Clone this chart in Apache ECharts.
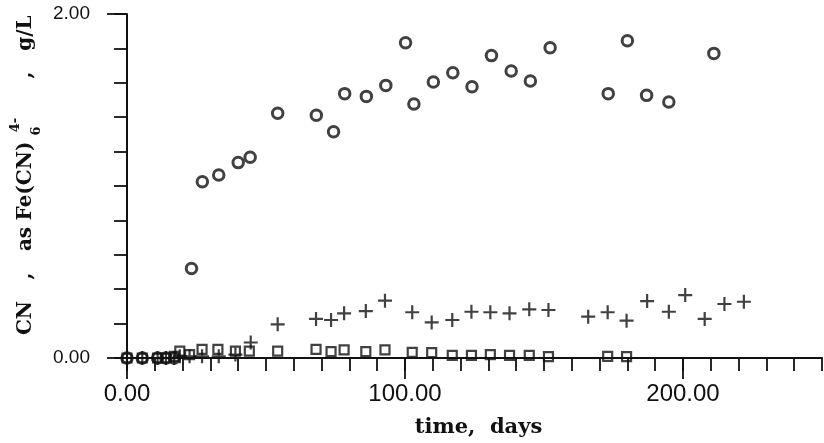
<!DOCTYPE html>
<html>
<head>
<meta charset="utf-8">
<script src="https://cdn.jsdelivr.net/npm/echarts@6/dist/echarts.min.js"></script>
<style>
html,body{margin:0;padding:0;background:#fff;}
#chart{width:824px;height:443px;}
</style>
</head>
<body>
<div id="chart"></div>
<script>
// ---- data ----
const circleDays   = [0, 5.5, 11, 14, 17, 23.2, 27.1, 33.0, 40.0, 44.3, 54.2, 68.1, 74.3, 78.3, 86.1, 93.1, 100.2, 103.2, 110.2, 117.2, 124.1, 131.1, 138.2, 145.1, 152.2, 173.1, 180.0, 186.9, 194.9, 211.1];
const circleValues = [0, 0, 0, 0, 0, 0.52, 1.025, 1.064, 1.136, 1.167, 1.423, 1.411, 1.316, 1.537, 1.521, 1.585, 1.833, 1.477, 1.605, 1.659, 1.577, 1.758, 1.669, 1.610, 1.804, 1.537, 1.845, 1.527, 1.488, 1.771];

const crossDays   = [0, 5.5, 11, 14, 17, 19, 22.5, 27, 33, 39, 44.5, 54.2, 68.0, 73.4, 78.1, 85.9, 92.8, 102.6, 109.6, 117.0, 123.9, 130.7, 137.6, 144.7, 151.6, 165.9, 172.9, 179.7, 187.1, 194.9, 200.8, 207.8, 214.9, 221.9];
const crossValues = [0, 0, 0, 0, 0, 0.01, 0.01, 0.01, 0.01, 0.02, 0.09, 0.196, 0.227, 0.221, 0.260, 0.273, 0.333, 0.266, 0.207, 0.221, 0.269, 0.266, 0.260, 0.283, 0.279, 0.240, 0.266, 0.217, 0.331, 0.269, 0.366, 0.227, 0.314, 0.327];

const squareDays   = [0, 5.5, 11, 14, 17, 19, 22.5, 27, 32.7, 39, 44, 54.2, 68.0, 73.4, 78.1, 85.9, 92.8, 102.6, 109.6, 117.0, 123.9, 130.7, 137.6, 144.7, 151.6, 172.9, 179.7];
const squareValues = [0, 0, 0, 0, 0.01, 0.04, 0.02, 0.05, 0.05, 0.04, 0.04, 0.04, 0.05, 0.037, 0.047, 0.037, 0.047, 0.033, 0.031, 0.015, 0.015, 0.02, 0.015, 0.015, 0.008, 0.01, 0.008];

const xLabelValues = [0, 100, 200];
const yLabelValues = [0, 2];
const xTitle = 'time,  days';

// ---- build ----
const pair = (xs, ys) => xs.map((x, i) => [x, ys[i]]);
const ink = '#111';
const plusPath = 'path://M-1.1,-7H1.1V-1.1H7V1.1H1.1V7H-1.1V1.1H-7V-1.1H-1.1Z';

const chart = echarts.init(document.getElementById('chart'));
const titleFont = 'bold 20px "DejaVu Serif"';
const smallFont = 'bold 13px "DejaVu Serif"';
function yPiece(text, x, y, font) {
  return {type: 'text', x: x, y: y, rotation: Math.PI / 2, silent: true,
    style: {text: text, font: font, fill: ink, align: 'center', verticalAlign: 'middle',
            textAlign: 'center', textVerticalAlign: 'middle'}};
}

chart.setOption({
  animation: false,
  backgroundColor: '#fff',
  grid: {left: 127, right: 2, top: 14, bottom: 85, containLabel: false, outerBoundsMode: 'none'},
  xAxis: [
    {type: 'value', min: 0, max: 250, interval: 10, position: 'bottom',
     axisLine: {show: true, lineStyle: {color: ink, width: 2}},
     axisTick: {show: true, length: 13, lineStyle: {color: ink, width: 1.8}},
     axisLabel: {show: false}, splitLine: {show: false}},
    {type: 'value', min: 0, max: 250, interval: 100, position: 'bottom',
     axisLine: {show: false},
     axisTick: {show: true, length: 21, customValues: xLabelValues, lineStyle: {color: ink, width: 1.8}},
     axisLabel: {show: true, customValues: xLabelValues, margin: 24, color: ink,
                 fontFamily: '"Liberation Sans", Arial, sans-serif', fontSize: 24,
                 formatter: v => v.toFixed(2)},
     splitLine: {show: false},
     name: xTitle, nameLocation: 'middle', nameGap: 59,
     nameTextStyle: {color: ink, fontFamily: '"DejaVu Serif", serif', fontWeight: 'bold', fontSize: 21, padding: [0, 0, 0, 8]}}
  ],
  yAxis: [
    {type: 'value', min: 0, max: 2, interval: 0.2, position: 'left',
     axisLine: {show: true, lineStyle: {color: ink, width: 2}},
     axisTick: {show: true, length: 13, lineStyle: {color: ink, width: 1.8}},
     axisLabel: {show: false}, splitLine: {show: false}},
    {type: 'value', min: 0, max: 2, interval: 2, position: 'left',
     axisLine: {show: false},
     axisTick: {show: true, length: 20, customValues: yLabelValues, lineStyle: {color: ink, width: 1.8}},
     axisLabel: {show: true, customValues: yLabelValues, margin: 37, color: ink,
                 fontFamily: '"Liberation Sans", Arial, sans-serif', fontSize: 19,
                 formatter: v => v.toFixed(2)},
     splitLine: {show: false}}
  ],
  series: [
    {type: 'scatter', name: 'squares', xAxisIndex: 0, yAxisIndex: 0, data: pair(squareDays, squareValues),
     symbol: 'rect', symbolSize: 9, itemStyle: {color: 'rgba(255,255,255,0)', borderColor: ink, borderWidth: 2.2}, z: 3},
    {type: 'scatter', name: 'crosses', xAxisIndex: 0, yAxisIndex: 0, data: pair(crossDays, crossValues),
     symbol: plusPath, symbolSize: 14, itemStyle: {color: ink}, z: 4},
    {type: 'scatter', name: 'circles', xAxisIndex: 0, yAxisIndex: 0, data: pair(circleDays, circleValues),
     symbol: 'circle', symbolSize: 10.5, itemStyle: {color: 'rgba(255,255,255,0)', borderColor: ink, borderWidth: 3}, z: 5}
  ],
  graphic: [
    yPiece('CN', 26, 318, titleFont),
    yPiece(',', 26, 276, titleFont),
    yPiece('as', 26, 239, titleFont),
    yPiece('Fe(CN)', 26, 181, titleFont),
    yPiece('6', 37, 131, smallFont),
    yPiece('4-', 16, 125, smallFont),
    yPiece(',', 26, 75, titleFont),
    yPiece('g/L', 26, 33, titleFont)
  ]
});
</script>
</body>
</html>
